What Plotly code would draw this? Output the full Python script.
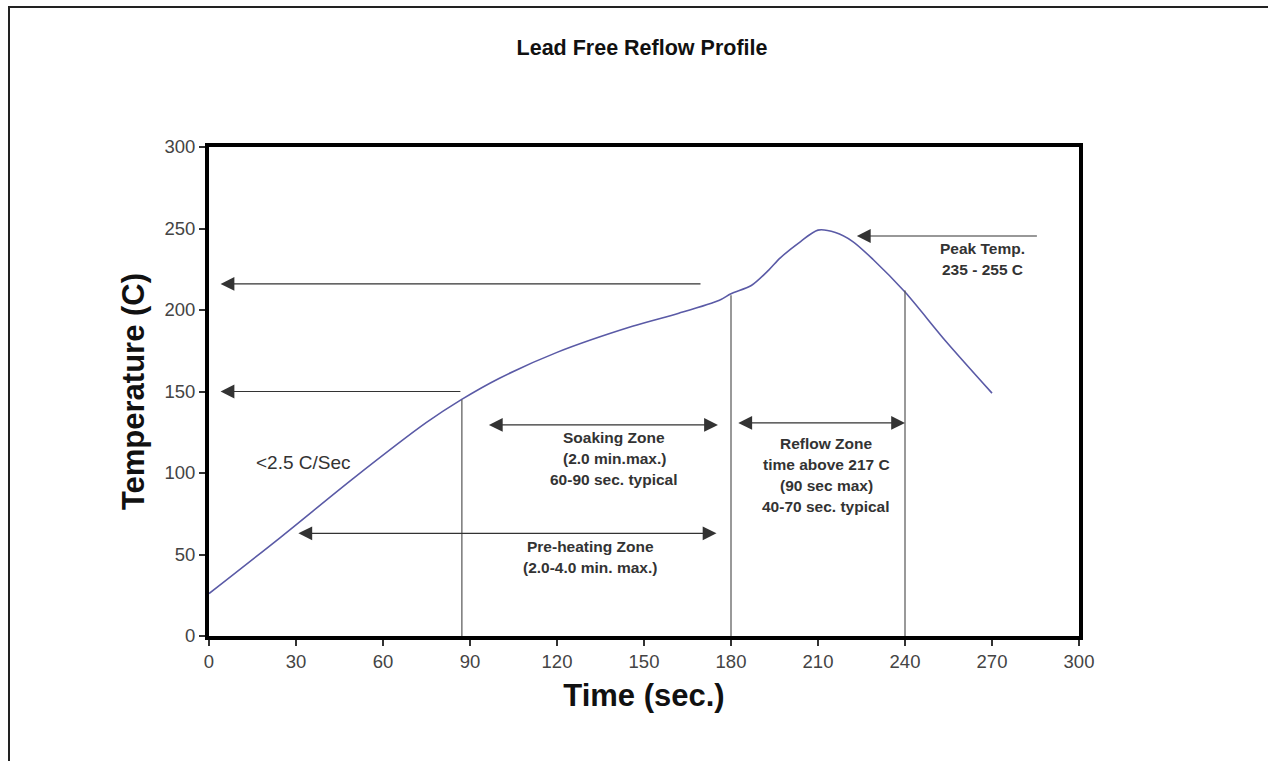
import plotly.graph_objects as go

# ---- data ----
time_s = [0, 25, 50, 75, 87, 100, 120, 146, 162, 176, 180, 187, 193, 197, 204, 210, 216, 222, 229, 240, 254, 270]
temp_c = [26, 61, 97, 131, 145, 158, 174, 190, 198, 206, 210, 215, 224.5, 232, 242, 249, 247.5, 242, 231, 211, 181, 149]

x_ticks = [0, 30, 60, 90, 120, 150, 180, 210, 240, 270, 300]
y_ticks = [0, 50, 100, 150, 200, 250, 300]

title_text = "Lead Free Reflow Profile"
x_title = "Time (sec.)"
y_title = "Temperature (C)"

# vertical marker lines: (x, top y)
v_lines = [(87.2, 145), (180, 209), (240, 212)]

# arrows: (tail_x, head_x, y, double)
arrows = [
    (170, 4, 216, False),
    (87.2, 4, 150, False),
    (96, 175.5, 129.5, True),
    (30.3, 175, 63, True),
    (182, 240, 130.7, True),
    (286, 223.4, 245.4, False),
]

# text blocks: (x center, y of first line, lines)
text_blocks = [
    (139.7, 122, ["Soaking Zone", "(2.0 min.max.)", "60-90 sec. typical"]),
    (131.4, 55, ["Pre-heating Zone", "(2.0-4.0 min. max.)"]),
    (212.8, 118, ["Reflow Zone", "time above 217 C", "(90 sec max)", "40-70 sec. typical"]),
    (266.6, 238, ["Peak Temp.", "235 - 255 C"]),
]
rate_label = (32.5, 106.7, "<2.5 C/Sec")

W, H = 1268, 761
L, T = 209, 147
PW, PH = 870, 489
R, B = W - L - PW, H - T - PH

FONT = "Liberation Sans, Arial"

fig = go.Figure()
fig.add_trace(go.Scatter(x=time_s, y=temp_c, mode="lines",
                         line=dict(color="#5a5aa6", width=1.6, shape="spline", smoothing=0.8),
                         hoverinfo="skip", showlegend=False))

shapes = []
for vx, vy in v_lines:
    shapes.append(dict(type="line", xref="x", yref="y", x0=vx, x1=vx, y0=0, y1=vy,
                       line=dict(color="#555555", width=1.2)))

def px(xp):
    return (xp - L) / PW

def py(yp):
    return (T + PH - yp) / PH

# outer frame (left and top edges)
shapes.append(dict(type="line", xref="paper", yref="paper", x0=px(9), x1=px(9), y0=py(7), y1=py(H + 20),
                   line=dict(color="#222222", width=2)))
shapes.append(dict(type="line", xref="paper", yref="paper", x0=px(8), x1=px(W + 20), y0=py(7), y1=py(7),
                   line=dict(color="#222222", width=2)))

annotations = []
for tx, hx, ay, dbl in arrows:
    annotations.append(dict(x=hx, y=ay, ax=tx, ay=ay, xref="x", yref="y", axref="x", ayref="y",
                            text="", showarrow=True, arrowhead=2, arrowsize=2.3, arrowwidth=1.2,
                            arrowcolor="#333333",
                            arrowside="end+start" if dbl else "end",
                            startarrowhead=2, startarrowsize=2.3))

for cx, cy, lines in text_blocks:
    for i, ln in enumerate(lines):
        annotations.append(dict(x=cx, y=cy, xref="x", yref="y", text="<b>" + ln + "</b>",
                                showarrow=False, yshift=-21 * i,
                                font=dict(family=FONT, size=15.5, color="#333333")))

annotations.append(dict(x=rate_label[0], y=rate_label[1], xref="x", yref="y", text=rate_label[2],
                        showarrow=False, font=dict(family=FONT, size=19, color="#333333")))

fig.update_layout(
    width=W, height=H,
    margin=dict(l=L, r=R, t=T, b=B, pad=0),
    paper_bgcolor="white", plot_bgcolor="white",
    title=dict(text="<b>" + title_text + "</b>", x=642 / W, xanchor="center", y=1 - 47 / H, yanchor="middle",
               font=dict(family=FONT, size=21.5, color="#111111")),
    xaxis=dict(range=[0, 300], tickvals=x_ticks, ticktext=[str(v) for v in x_ticks],
               showline=True, linewidth=4, linecolor="black", mirror=True,
               ticks="outside", ticklen=6, tickwidth=1.5, tickcolor="#333333",
               showgrid=False, zeroline=False,
               tickfont=dict(family=FONT, size=18.5, color="#444444"),
               title=dict(text="<b>" + x_title + "</b>", standoff=14,
                          font=dict(family=FONT, size=31, color="#111111"))),
    yaxis=dict(range=[0, 300], tickvals=y_ticks, ticktext=[str(v) for v in y_ticks],
               showline=True, linewidth=4, linecolor="black", mirror=True,
               ticks="outside", ticklen=6, tickwidth=1.5, tickcolor="#333333",
               showgrid=False, zeroline=False,
               tickfont=dict(family=FONT, size=18.5, color="#444444"),
               title=dict(text="<b>" + y_title + "</b>", standoff=12,
                          font=dict(family=FONT, size=31, color="#111111"))),
    shapes=shapes,
    annotations=annotations,
)

fig.write_html("out.html", config={"displayModeBar": False},
               post_script="document.body.style.margin='0';document.body.style.overflow='hidden';")
